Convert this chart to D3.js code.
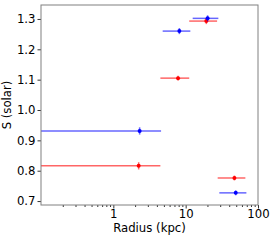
<!DOCTYPE html>
<html>
<head>
<meta charset="utf-8">
<script src="https://cdn.jsdelivr.net/npm/d3@7"></script>
<style>
  body { margin: 0; background: #fff; }
  text { font-family: "DejaVu Sans", sans-serif; }
</style>
</head>
<body>
<div id="chart"></div>
<script>
// data
var redR    = [2.24, 7.85, 19.3, 47.2];
var redRlo  = [0.05, 4.47, 11.2, 27.7];
var redRhi  = [4.47, 11.2, 27.2, 66.9];
var redS    = [0.816, 1.105, 1.293, 0.776];
var redSerr = [0.012, 0.008, 0.01, 0.008];

var blueR    = [2.31, 8.18, 20.1, 49.2];
var blueRlo  = [0.05, 4.81, 12.5, 29.2];
var blueRhi  = [4.57, 11.6, 28.3, 69.1];
var blueS    = [0.931, 1.260, 1.302, 0.727];
var blueSerr = [0.012, 0.01, 0.01, 0.008];

var xTicks = [1, 10, 100];
var yTicks = [0.7, 0.8, 0.9, 1.0, 1.1, 1.2, 1.3];

var svgWidth = 274;
var svgHeight = 240;
var margin = { top: 5, right: 16, bottom: 35, left: 41 };
var chartWidth = svgWidth - margin.left - margin.right;
var chartHeight = svgHeight - margin.top - margin.bottom;

var svg = d3.select("#chart")
    .append("svg")
    .attr("width", svgWidth)
    .attr("height", svgHeight);

var chartGroup = svg.append("g")
    .attr("transform", `translate(${margin.left}, ${margin.top})`);

var xScale = d3.scaleLog()
    .domain([0.1, 100])
    .range([0, chartWidth]);

var yScale = d3.scaleLinear()
    .domain([0.687, 1.346])
    .range([chartHeight, 0]);

// minor ticks on log axis
var minorTicks = [];
[0.1, 1, 10].forEach(function(d) {
    for (var k = 2; k <= 9; k++) minorTicks.push(d * k);
});

var tickColor = "#333";
var fontSize = 11.7;

chartGroup.append("g")
    .attr("transform", `translate(0, ${chartHeight})`)
    .call(d3.axisBottom(xScale).tickValues(minorTicks).tickSize(2).tickFormat(""))
    .call(g => g.select(".domain").remove())
    .call(g => g.selectAll("line").attr("stroke", tickColor));

chartGroup.append("g")
    .attr("transform", `translate(0, ${chartHeight})`)
    .call(d3.axisBottom(xScale).tickValues(xTicks).tickSize(3.5).tickPadding(1.5).tickFormat(d3.format("d")))
    .call(g => g.select(".domain").remove())
    .call(g => g.selectAll("line").attr("stroke", tickColor))
    .call(g => g.selectAll("text").attr("font-size", fontSize).attr("fill", "#000")
        .attr("font-family", "DejaVu Sans"));

chartGroup.append("g")
    .call(d3.axisLeft(yScale).tickValues(yTicks).tickSize(3.5).tickPadding(2).tickFormat(d3.format(".1f")))
    .call(g => g.select(".domain").remove())
    .call(g => g.selectAll("line").attr("stroke", tickColor))
    .call(g => g.selectAll("text").attr("font-size", fontSize).attr("fill", "#000")
        .attr("font-family", "DejaVu Sans"));

// clip for error bars going past left edge
chartGroup.append("clipPath").attr("id", "clip")
    .append("rect").attr("width", chartWidth).attr("height", chartHeight);

var plot = chartGroup.append("g").attr("clip-path", "url(#clip)");

function drawSeries(R, lo, hi, S, err, lineColor, dotColor) {
    var idx = d3.range(R.length);
    var g = plot.append("g");
    g.selectAll(".xerr").data(idx).enter().append("line")
        .attr("x1", i => xScale(lo[i]))
        .attr("x2", i => xScale(hi[i]))
        .attr("y1", i => yScale(S[i]))
        .attr("y2", i => yScale(S[i]))
        .attr("stroke", lineColor)
        .attr("stroke-width", 1.5);
    g.selectAll(".yerr").data(idx).enter().append("line")
        .attr("x1", i => xScale(R[i]))
        .attr("x2", i => xScale(R[i]))
        .attr("y1", i => yScale(S[i] - err[i]))
        .attr("y2", i => yScale(S[i] + err[i]))
        .attr("stroke", lineColor)
        .attr("stroke-width", 1.5);
    g.selectAll("circle").data(idx).enter().append("circle")
        .attr("cx", i => xScale(R[i]))
        .attr("cy", i => yScale(S[i]))
        .attr("r", 2)
        .attr("fill", dotColor);
}

drawSeries(redR, redRlo, redRhi, redS, redSerr, "rgba(255,0,0,0.6)", "#ff0000");
drawSeries(blueR, blueRlo, blueRhi, blueS, blueSerr, "rgba(0,0,255,0.6)", "#0000ff");

// frame
chartGroup.append("rect")
    .attr("width", chartWidth)
    .attr("height", chartHeight)
    .attr("fill", "none")
    .attr("stroke", "#808080")
    .attr("stroke-width", 1);

// axis labels
chartGroup.append("text")
    .attr("transform", "rotate(-90)")
    .attr("x", -chartHeight / 2)
    .attr("y", -margin.left + 11)
    .attr("text-anchor", "middle")
    .attr("font-size", fontSize)
    .text("S (solar)");

chartGroup.append("text")
    .attr("x", chartWidth / 2)
    .attr("y", chartHeight + 27)
    .attr("text-anchor", "middle")
    .attr("font-size", fontSize)
    .text("Radius (kpc)");
</script>
</body>
</html>
